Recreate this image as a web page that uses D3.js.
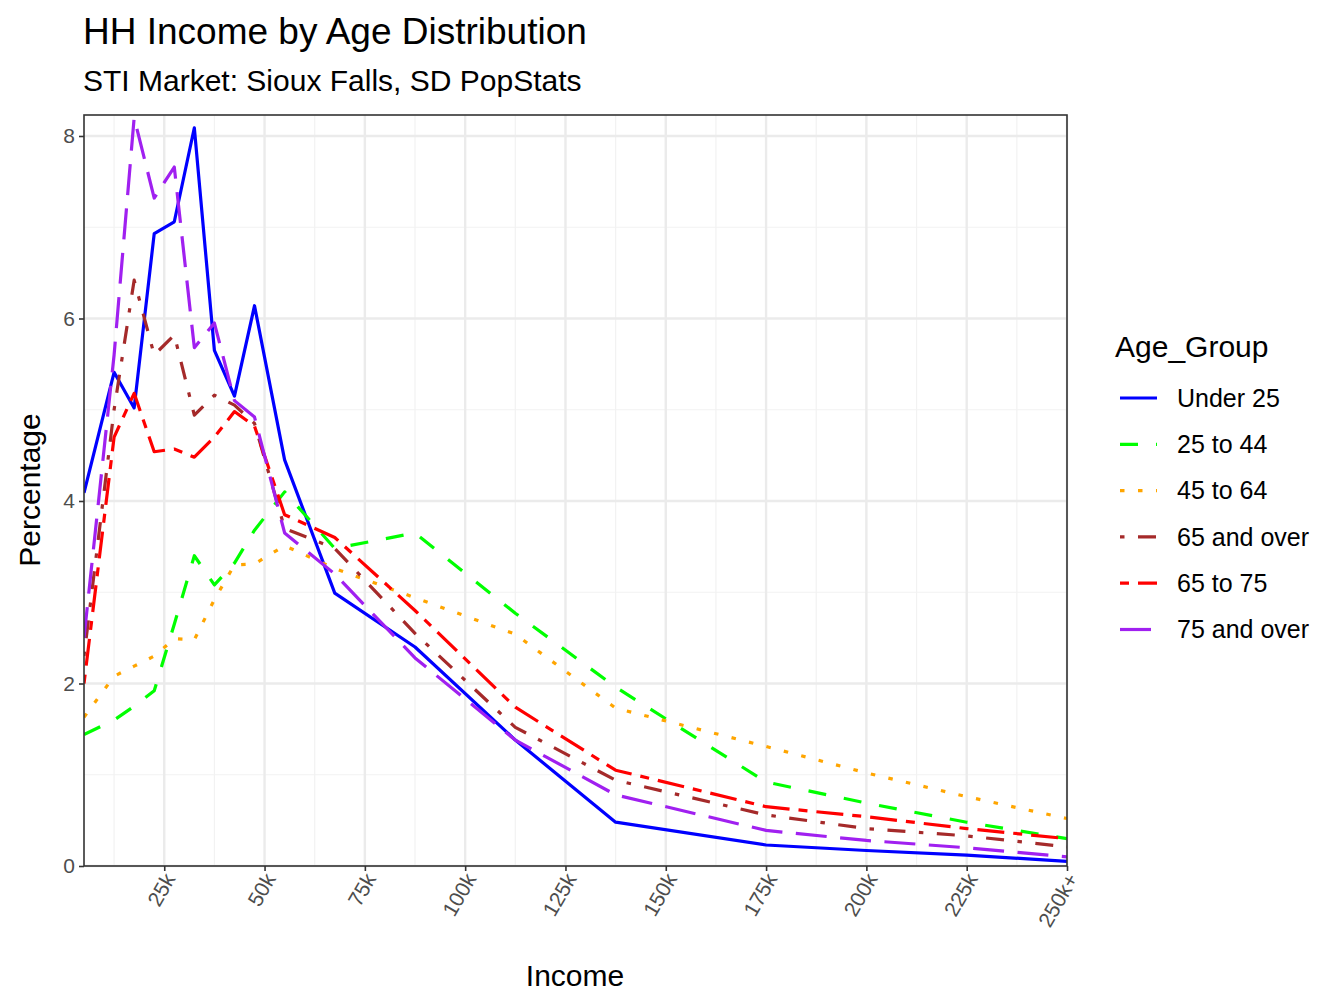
<!DOCTYPE html>
<html><head><meta charset="utf-8">
<script src="https://cdn.jsdelivr.net/npm/d3@7"></script>
<style>body{margin:0;background:#fff;} text{font-family:Arial,"Liberation Sans",sans-serif;}</style>
</head><body><svg id="c" width="1344" height="1008"></svg>
<script>
const incomes = [5,12.5,17.5,22.5,27.5,32.5,37.5,42.5,47.5,55,67.5,87.5,112.5,137.5,175,200,225,250];
const groups = ["Under 25","25 to 44","45 to 64","65 and over","65 to 75","75 and over"];
const under25   = [4.09,5.41,5.02,6.93,7.06,8.09,5.65,5.15,6.14,4.45,2.99,2.40,1.38,0.48,0.23,0.17,0.12,0.05];
const age25to44 = [1.44,1.60,1.75,1.92,2.65,3.40,3.08,3.32,3.68,4.10,3.48,3.65,2.77,1.96,0.92,0.69,0.48,0.30];
const age45to64 = [1.63,2.08,2.19,2.30,2.49,2.48,2.92,3.30,3.31,3.51,3.26,2.94,2.54,1.73,1.31,1.02,0.76,0.52];
const age65over = [2.30,5.00,6.42,5.60,5.82,4.94,5.16,5.05,4.85,3.70,3.48,2.55,1.52,0.94,0.56,0.41,0.33,0.21];
const age65to75 = [2.00,4.70,5.18,4.54,4.57,4.48,4.70,4.98,4.82,3.85,3.60,2.80,1.74,1.05,0.65,0.54,0.41,0.30];
const age75over = [2.50,5.60,8.20,7.32,7.66,5.68,5.95,5.10,4.92,3.65,3.20,2.28,1.38,0.78,0.39,0.28,0.20,0.10];
const seriesVals = [under25,age25to44,age45to64,age65over,age65to75,age75over];
const colors = ["#0000FF","#00FF00","#FFA500","#A52A2A","#FF0000","#A020F0"];
const dashes = ["none","18,18","4.5,13.5","4.5,13.5,18,13.5","9,9,27,9","31,13.5"];
const xTicks = [25,50,75,100,125,150,175,200,225,250];
const xTickLabels = ["25k","50k","75k","100k","125k","150k","175k","200k","225k","250k+"];
const yTicks = [0,2,4,6,8];

const svg = d3.select("#c");
const L=84,R=1067,T=115,B=866;
const x = d3.scaleLinear().domain([5,250]).range([L,R]);
const y = d3.scaleLinear().domain([0,8.23]).range([B,T]);

const g = svg.append("g");
const xMinor = xTicks.map(v=>v-12.5).filter(v=>v>5);
g.selectAll(".xm").data(xMinor).join("line").attr("x1",d=>x(d)).attr("x2",d=>x(d)).attr("y1",T).attr("y2",B).attr("stroke","#f2f2f2").attr("stroke-width",1.2);
g.selectAll(".ym").data([1,3,5,7]).join("line").attr("y1",d=>y(d)).attr("y2",d=>y(d)).attr("x1",L).attr("x2",R).attr("stroke","#f2f2f2").attr("stroke-width",1.2);
g.selectAll(".xg").data(xTicks).join("line").attr("x1",d=>x(d)).attr("x2",d=>x(d)).attr("y1",T).attr("y2",B).attr("stroke","#ebebeb").attr("stroke-width",2.4);
g.selectAll(".yg").data(yTicks).join("line").attr("y1",d=>y(d)).attr("y2",d=>y(d)).attr("x1",L).attr("x2",R).attr("stroke","#ebebeb").attr("stroke-width",2.4);

svg.append("clipPath").attr("id","pc").append("rect").attr("x",L).attr("y",T).attr("width",R-L).attr("height",B-T);
const line = d3.line().x((d,i)=>x(incomes[i])).y(d=>y(d));
svg.append("g").attr("clip-path","url(#pc)").selectAll("path").data(seriesVals).join("path")
  .attr("d",d=>line(d)).attr("fill","none").attr("stroke",(d,i)=>colors[i])
  .attr("stroke-width",3.2).attr("stroke-dasharray",(d,i)=>dashes[i]).attr("stroke-linejoin","round");

svg.append("rect").attr("x",L).attr("y",T).attr("width",R-L).attr("height",B-T).attr("fill","none").attr("stroke","#333").attr("stroke-width",1.6);

const xa = svg.append("g").attr("transform",`translate(0,${B})`).call(d3.axisBottom(x).tickValues(xTicks).tickSize(5).tickFormat((d,i)=>xTickLabels[i]));
xa.select(".domain").remove();
xa.selectAll("line").attr("stroke","#333").attr("stroke-width",1.6);
xa.selectAll("text").attr("fill","#4d4d4d").style("font-size","21px").attr("text-anchor","end")
  .attr("transform","translate(5,9) rotate(-60)").attr("dy","0.35em").attr("y",0).attr("x",0);
const ya = svg.append("g").attr("transform",`translate(${L},0)`).call(d3.axisLeft(y).tickValues(yTicks).tickSize(5));
ya.select(".domain").remove();
ya.selectAll("line").attr("stroke","#333").attr("stroke-width",1.6);
ya.selectAll("text").attr("fill","#4d4d4d").style("font-size","21px").attr("x",-9);

svg.append("text").attr("x",83).attr("y",44).text("HH Income by Age Distribution").style("font-size","37px").attr("fill","#000");
svg.append("text").attr("x",83).attr("y",91).text("STI Market: Sioux Falls, SD PopStats").style("font-size","30px").attr("fill","#000");
svg.append("text").attr("x",575).attr("y",986).attr("text-anchor","middle").text("Income").style("font-size","30px");
svg.append("text").attr("transform","translate(40,490) rotate(-90)").attr("text-anchor","middle").text("Percentage").style("font-size","30px");

svg.append("text").attr("x",1115).attr("y",357).text("Age_Group").style("font-size","30px");
const lg = svg.append("g").selectAll("g").data(groups).join("g").attr("transform",(d,i)=>`translate(0,${398+i*46.3})`);
lg.append("line").attr("x1",1120).attr("x2",1157).attr("stroke",(d,i)=>colors[i]).attr("stroke-width",3.2).attr("stroke-dasharray",(d,i)=>dashes[i]);
lg.append("text").attr("x",1177).attr("y",0).attr("dy","0.35em").text(d=>d).style("font-size","25px");
</script></body></html>
